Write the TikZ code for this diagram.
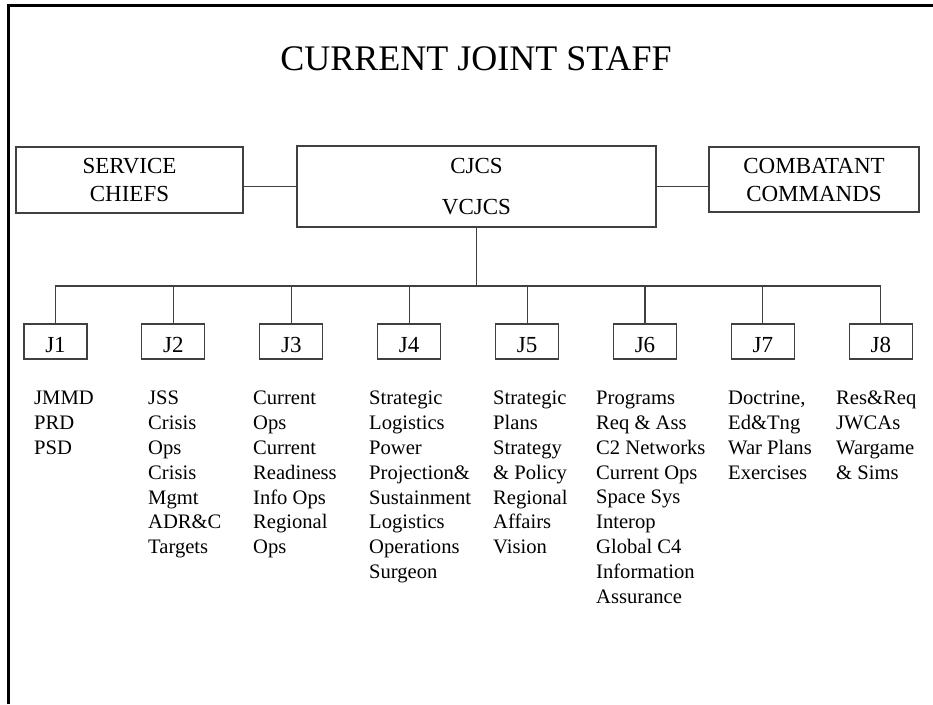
\documentclass[tikz,border=0pt]{standalone}
\usepackage{fontspec}
\setmainfont{Liberation Serif}
\usetikzlibrary{positioning}

\begin{document}
\begin{tikzpicture}[x=1pt,y=-1pt,node distance=117.9pt,on grid,
		line/.style={draw=black!75,line width=1.1pt},
		chief/.style={line,align=center,inner sep=0pt,font=\fontsize{23}{28}\selectfont},
		jbox/.style={line,minimum width=63pt,minimum height=35pt,inner sep=0pt,text height=21pt,text depth=0pt,font=\fontsize{23}{28}\selectfont},
		duty/.style={anchor=north west,align=left,inner sep=0pt,font=\fontsize{20.6}{24.8}\selectfont}]
		\useasboundingbox (0,0) rectangle (933,704);
		\draw[line width=3pt] (8,704) -- (8,5) -- (933,5);
		
		\node[font=\fontsize{36}{40}\selectfont,anchor=base] (title) at (476,70) {CURRENT JOINT STAFF};
		
		\node[chief,minimum width=359pt,minimum height=81pt,font=\fontsize{23}{41}\selectfont] (CJ) at (476.5,186.5) {CJCS\\VCJCS};
		\node[chief,minimum width=227pt,minimum height=66pt] (SC) at (129.5,180) {SERVICE\\CHIEFS};
		\node[chief,minimum width=210pt,minimum height=65pt] (CC) at (814,179.5) {COMBATANT\\COMMANDS};
		\coordinate (bus) at (476.5,286);
		
		\node[jbox]         (J_1)   at (55.5,341.5) {J1};
		\node[jbox]         (J_2)   [right=of J_1] {J2};
		\node[jbox]         (J_3)   [right=of J_2] {J3};
		\node[jbox]         (J_4)   [right=of J_3] {J4};
		\node[jbox]         (J_5)   [right=of J_4] {J5};
		\node[jbox]         (J_6)   [right=of J_5] {J6};
		\node[jbox]         (J_7)   [right=of J_6] {J7};
		\node[jbox]         (J_8)   [right=of J_7] {J8};
		
		\node[duty] (L_1) at (34,391) {JMMD\\PRD\\PSD};
		\node[duty] (L_2) at (148,391) {JSS\\Crisis\\Ops\\Crisis\\Mgmt\\ADR\&C\\Targets};
		\node[duty] (L_3) at (253,391) {Current\\Ops\\Current\\Readiness\\Info Ops\\Regional\\Ops};
		\node[duty] (L_4) at (369,391) {Strategic\\Logistics\\Power\\Projection\&\\Sustainment\\Logistics\\Operations\\Surgeon};
		\node[duty] (L_5) at (493,391) {Strategic\\Plans\\Strategy\\\& Policy\\Regional\\Affairs\\Vision};
		\node[duty] (L_6) at (596,391) {Programs\\Req \& Ass\\C2 Networks\\Current Ops\\Space Sys\\Interop\\Global C4\\Information\\Assurance};
		\node[duty] (L_7) at (728,391) {Doctrine,\\Ed\&Tng\\War Plans\\Exercises};
		\node[duty] (L_8) at (836,391) {Res\&Req\\JWCAs\\Wargame\\\& Sims};
		
		\draw[line] (SC.east |- CJ.west) -- (CJ.west)
		(CJ.east) -- (CC.west |- CJ.east)
		(CJ.south) -- (bus)
		(J_1.north) |- (bus) (J_2.north) |- (bus) (J_3.north) |- (bus) (J_4.north) |- (bus)
		(J_5.north) |- (bus) (J_6.north) |- (bus) (J_7.north) |- (bus) (J_8.north) |- (bus);
	\end{tikzpicture}
\end{document}
